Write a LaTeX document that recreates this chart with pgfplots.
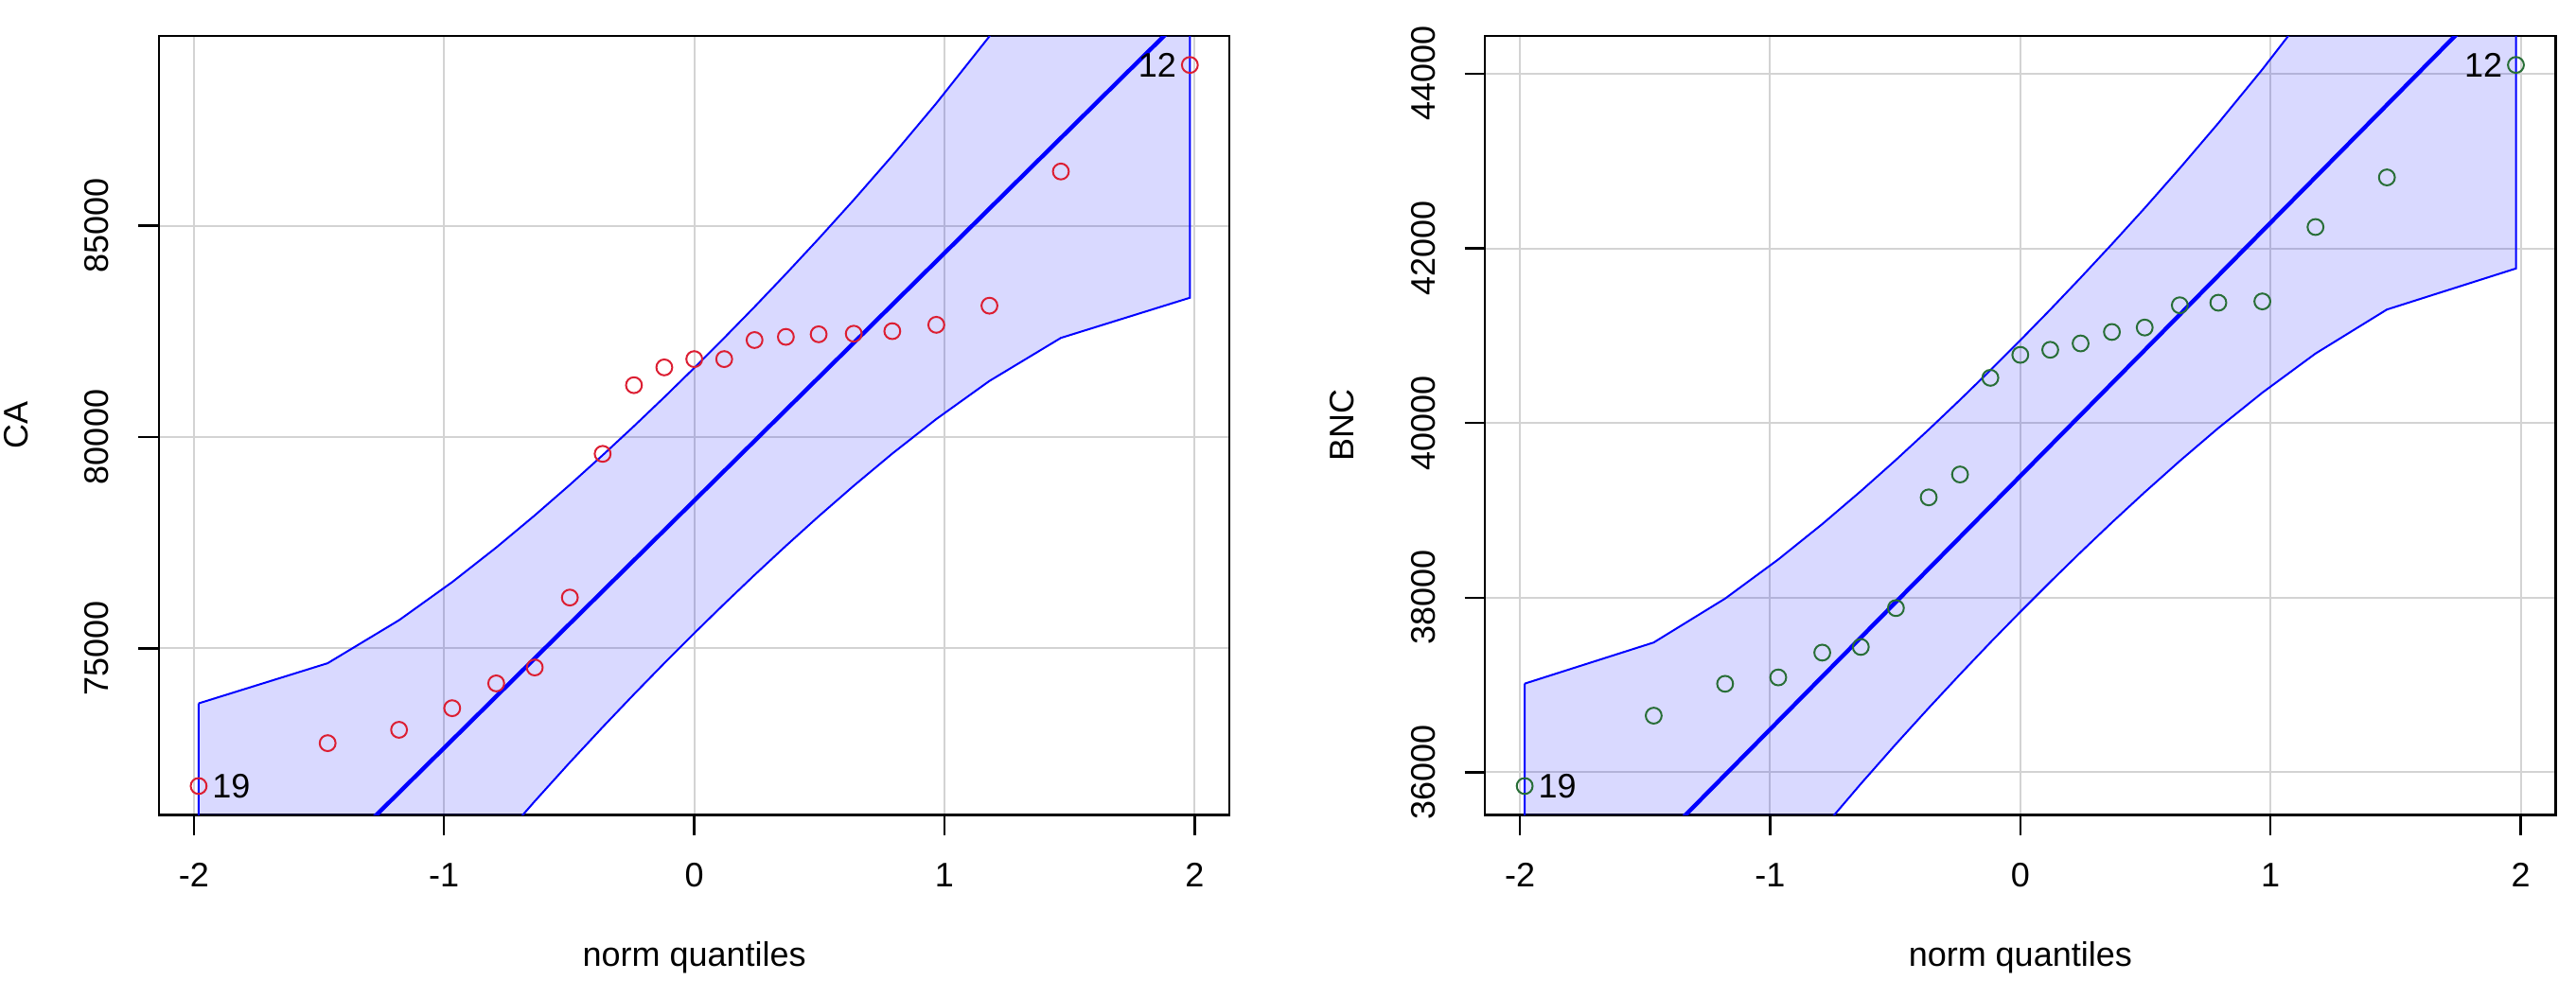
\documentclass[border=0pt]{standalone}
\usepackage{fontspec}
\setmainfont{Liberation Sans}
\usepackage{pgfplots}
\usepackage{pgfplotstable}
\pgfplotsset{compat=1.18}

\definecolor{envblue}{RGB}{0,0,255}
\definecolor{ptred}{RGB}{220,30,50}
\definecolor{ptgreen}{RGB}{40,110,55}
\definecolor{gridgray}{RGB}{211,211,211}

% sample points (normal quantile, value)
\pgfplotstableread{
z y
-1.9808 71745
-1.4652 72759
-1.1798 73075
-0.9674 73586
-0.7915 74173
-0.6375 74549
-0.4972 76203
-0.3661 79602
-0.2410 81226
-0.1197 81647
0 81843
0.1197 81843
0.2410 82294
0.3661 82369
0.4972 82430
0.6375 82444
0.7915 82504
0.9674 82654
1.1798 83106
1.4652 86280
1.9808 88800
}\CApts

% envelope: upper band left to right, then lower band back
\pgfplotstableread{
z y
-1.9808 73700
-1.4652 74650
-1.1798 75668
-0.9674 76569
-0.7915 77386
-0.6375 78147
-0.4972 78870
-0.3661 79570
-0.2410 80257
-0.1197 80942
0 81635
0.1197 82344
0.2410 83079
0.3661 83856
0.4972 84690
0.6375 85609
0.7915 86652
0.9674 87893
1.1798 89478
1.4652 91802
1.9808 96888
1.9808 83294
1.4652 82344
1.1798 81326
0.9674 80425
0.7915 79608
0.6375 78847
0.4972 78124
0.3661 77424
0.2410 76737
0.1197 76052
0 75359
-0.1197 74650
-0.2410 73915
-0.3661 73138
-0.4972 72304
-0.6375 71385
-0.7915 70342
-0.9674 69101
-1.1798 67516
-1.4652 65192
-1.9808 60106
-1.9808 73700
}\CAenv

\pgfplotstableread{
z y
-1.9808 35842
-1.4652 36648
-1.1798 37013
-0.9674 37086
-0.7915 37370
-0.6375 37435
-0.4972 37880
-0.3661 39148
-0.2410 39410
-0.1197 40517
0 40780
0.1197 40838
0.2410 40911
0.3661 41042
0.4972 41093
0.6375 41348
0.7915 41377
0.9674 41392
1.1798 42244
1.4652 42812
1.9808 44100
}\BNCpts

\pgfplotstableread{
z y
-1.9808 37015
-1.4652 37486
-1.1798 37989
-0.9674 38437
-0.7915 38842
-0.6375 39219
-0.4972 39577
-0.3661 39924
-0.2410 40265
-0.1197 40604
0 40947
0.1197 41298
0.2410 41663
0.3661 42048
0.4972 42461
0.6375 42917
0.7915 43434
0.9674 44049
1.1798 44835
1.4652 45987
1.9808 48507
1.9808 41769
1.4652 41299
1.1798 40795
0.9674 40347
0.7915 39942
0.6375 39565
0.4972 39207
0.3661 38860
0.2410 38519
0.1197 38180
0 37837
-0.1197 37486
-0.2410 37121
-0.3661 36736
-0.4972 36323
-0.6375 35867
-0.7915 35350
-0.9674 34735
-1.1798 33949
-1.4652 32798
-1.9808 30277
-1.9808 37015
}\BNCenv

\pgfplotsset{
  qq/.style={
    scale only axis,
    width=282.8pt, height=205.8pt,
    anchor=south west,
    xmin=-2.1393, xmax=2.1393,
    xtick={-2,-1,0,1,2}, xticklabels={-2,-1,0,1,2},
    scaled x ticks=false, scaled y ticks=false,
    tick pos=left, tick align=outside,
    major tick length=5.4pt,
    grid=major,
    grid style={gridgray, line width=0.5pt},
    axis line style={line width=0.6pt},
    every tick/.style={black, line width=0.6pt},
    tick label style={font=\fontsize{9}{10.8}\selectfont},
    label style={font=\fontsize{9}{10.8}\selectfont},
    xticklabel style={anchor=center, yshift=-10.5pt},
    yticklabel style={anchor=center, xshift=-11pt, rotate=90},
    xlabel={norm quantiles},
    xlabel style={at={([yshift=-37.6pt]axis description cs:0.5,0)}, anchor=center},
    ylabel style={at={([xshift=-37.8pt]axis description cs:0,0.5)}, anchor=center},
  },
  env/.style={draw=envblue, line width=0.5pt, fill=envblue, fill opacity=0.15},
  fit/.style={envblue, line width=1.1pt},
  pts/.style={only marks, mark=o, mark size=2.1pt, mark options={line width=0.5pt}},
}
\tikzset{idlab/.style={inner sep=0pt, font=\fontsize{9}{10.8}\selectfont}}

\begin{document}
\begin{tikzpicture}
\useasboundingbox (0,0) rectangle (680.5pt,263.5pt);

\begin{axis}[qq, at={(42pt,48.15pt)},
    ymin=71063, ymax=89482,
    ytick={75000,80000,85000}, yticklabels={75000,80000,85000},
    ylabel={CA}]
  \addplot[env] table {\CAenv};
  \addplot[fit] coordinates {(-1.9808,66903) (1.9808,90091)};
  \addplot[pts, ptred] table {\CApts};
  \node[idlab, anchor=west, xshift=3.4pt] at (axis cs:-1.9808,71745) {19};
  \node[idlab, anchor=east, xshift=-3.4pt] at (axis cs:1.9808,88800) {12};
\end{axis}

\begin{axis}[qq, at={(392.3pt,48.15pt)},
    ymin=35512, ymax=44430,
    ytick={36000,38000,40000,42000,44000},
    yticklabels={36000,38000,40000,42000,44000},
    ylabel={BNC}]
  \addplot[env] table {\BNCenv};
  \addplot[fit] coordinates {(-1.9808,33646) (1.9808,45138)};
  \addplot[pts, ptgreen] table {\BNCpts};
  \node[idlab, anchor=west, xshift=3.4pt] at (axis cs:-1.9808,35842) {19};
  \node[idlab, anchor=east, xshift=-3.4pt] at (axis cs:1.9808,44100) {12};
\end{axis}
\end{tikzpicture}
\end{document}
